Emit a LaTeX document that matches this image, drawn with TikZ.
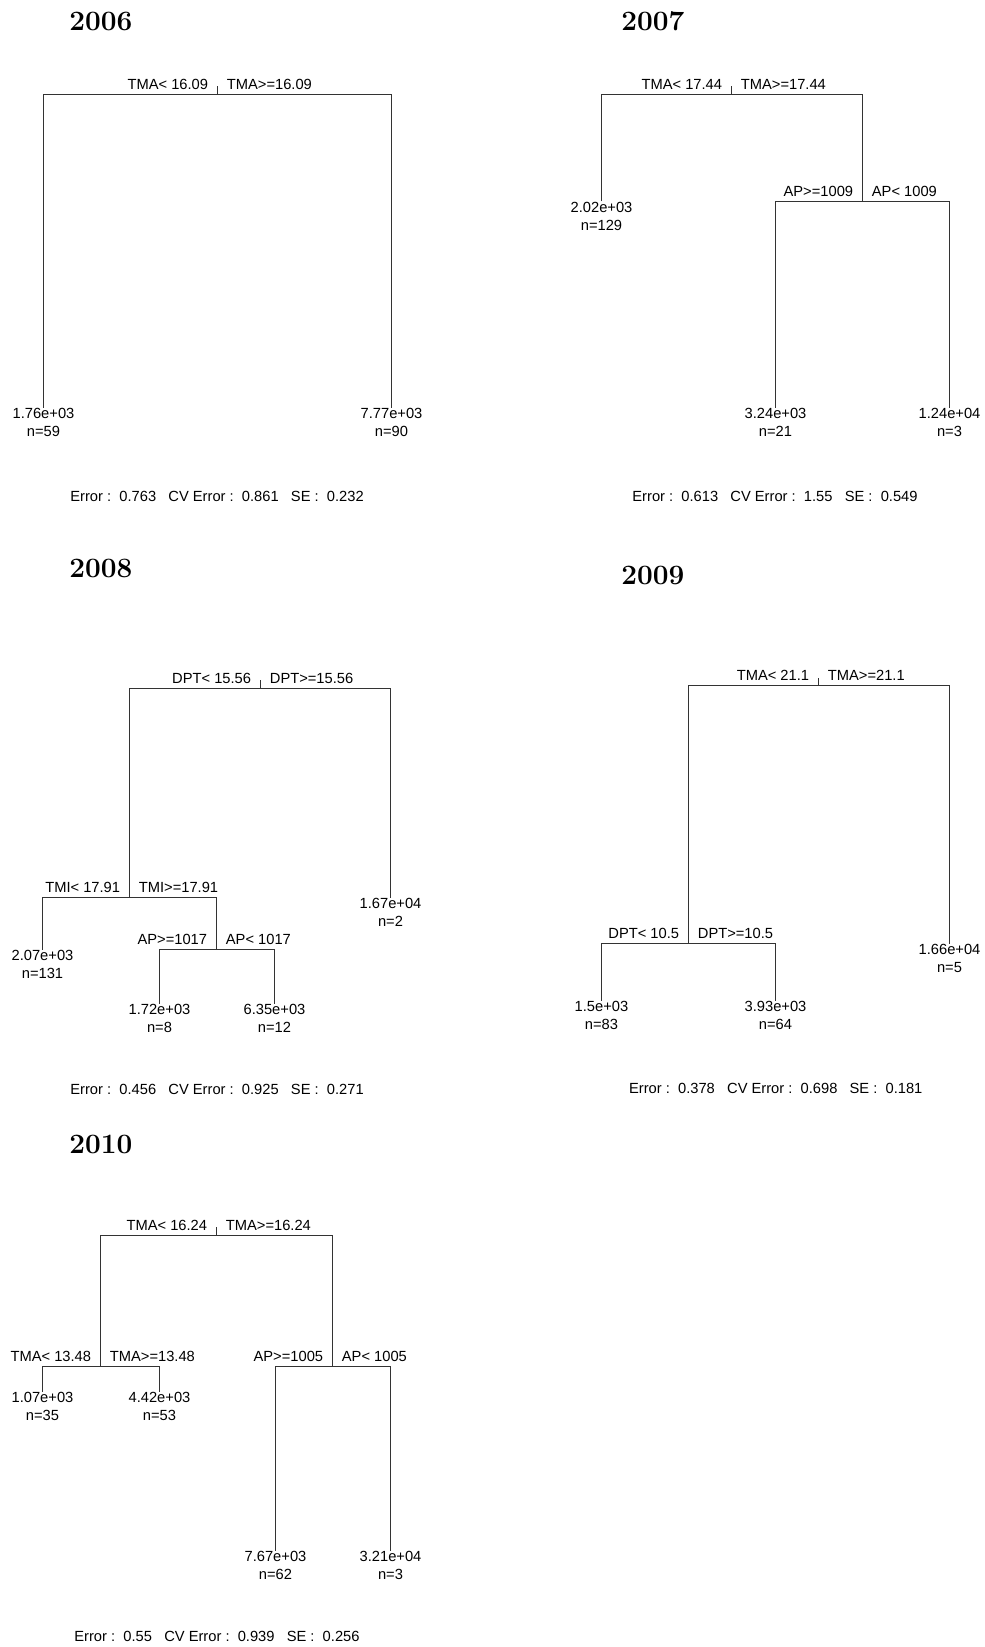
\documentclass[tikz,border=0pt]{standalone}
\usepackage{fontspec}
\newfontfamily\lab{Liberation Sans}
\begin{document}
\begin{tikzpicture}[x=0.5pt,y=-0.5pt]
\tikzset{
  edge/.style={line width=0.5pt, draw=black!80},
  lbl/.style={font=\lab\fontsize{7.35}{9}\selectfont, inner sep=0pt},
  leftlbl/.style={lbl, anchor=base east, xshift=-4.5pt, yshift=2.5pt},
  rightlbl/.style={lbl, anchor=base west, xshift=4.5pt, yshift=2.5pt},
  leaf/.style={lbl, anchor=north, align=center},
  yeartitle/.style={font=\fontsize{14}{16}\selectfont\bfseries, inner sep=0pt, anchor=west},
  errline/.style={lbl, anchor=west},
}
\fill[white] (0,0) rectangle (984,1647);
\useasboundingbox (0,0) rectangle (984,1647);

% ---------------- 2006 ----------------
\node[yeartitle] (t06) at (69,21.7) {2006};
\coordinate (r06) at (217.5,94.5);
\coordinate (r06t) at (217.5,86.5);
\node[leaf] (l06a) at (43.5,407.5) {1.76e+03\\n=59};
\node[leaf] (l06b) at (391.5,407.5) {7.77e+03\\n=90};
\draw[edge] (r06) -- (r06t);
\draw[edge] (l06a.north) |- (r06) -| (l06b.north);
\node[leftlbl] (r06l) at (r06) {TMA< 16.09};
\node[rightlbl] (r06r) at (r06) {TMA>=16.09};
\node[errline] (e06) at (70,496) {Error :~~0.763~~~CV Error :~~0.861~~~SE :~~0.232};

% ---------------- 2007 ----------------
\node[yeartitle] (t07) at (621,21.7) {2007};
\coordinate (r07) at (731.5,94.5);
\coordinate (r07t) at (731.5,86.5);
\coordinate (s07) at (862.5,201.5);
\node[leaf] (l07a) at (601.5,201.5) {2.02e+03\\n=129};
\node[leaf] (l07b) at (775.5,407.5) {3.24e+03\\n=21};
\node[leaf] (l07c) at (949.5,407.5) {1.24e+04\\n=3};
\draw[edge] (r07) -- (r07t);
\draw[edge] (l07a.north) |- (r07) -| (s07);
\draw[edge] (l07b.north) |- (s07) -| (l07c.north);
\node[leftlbl] (r07l) at (r07) {TMA< 17.44};
\node[rightlbl] (r07r) at (r07) {TMA>=17.44};
\node[leftlbl] (s07l) at (s07) {AP>=1009};
\node[rightlbl] (s07r) at (s07) {AP< 1009};
\node[errline] (e07) at (632,496) {Error :~~0.613~~~CV Error :~~1.55~~~SE :~~0.549};

% ---------------- 2008 ----------------
\node[yeartitle] (t08) at (69,568) {2008};
\coordinate (r08) at (260.5,688.5);
\coordinate (r08t) at (260.5,679.5);
\coordinate (s08a) at (129.5,897.5);
\coordinate (s08b) at (216.5,949.5);
\node[leaf] (l08a) at (390.5,897.5) {1.67e+04\\n=2};
\node[leaf] (l08b) at (42.5,949.5) {2.07e+03\\n=131};
\node[leaf] (l08c) at (159.5,1003.5) {1.72e+03\\n=8};
\node[leaf] (l08d) at (274.5,1003.5) {6.35e+03\\n=12};
\draw[edge] (r08) -- (r08t);
\draw[edge] (s08a) |- (r08) -| (l08a.north);
\draw[edge] (l08b.north) |- (s08a) -| (s08b);
\draw[edge] (l08c.north) |- (s08b) -| (l08d.north);
\node[leftlbl] (r08l) at (r08) {DPT< 15.56};
\node[rightlbl] (r08r) at (r08) {DPT>=15.56};
\node[leftlbl] (s08al) at (s08a) {TMI< 17.91};
\node[rightlbl] (s08ar) at (s08a) {TMI>=17.91};
\node[leftlbl] (s08bl) at (s08b) {AP>=1017};
\node[rightlbl] (s08br) at (s08b) {AP< 1017};
\node[errline] (e08) at (70,1089) {Error :~~0.456~~~CV Error :~~0.925~~~SE :~~0.271};

% ---------------- 2009 ----------------
\node[yeartitle] (t09) at (621,575.5) {2009};
\coordinate (r09) at (818.5,685.5);
\coordinate (r09t) at (818.5,677.5);
\coordinate (s09) at (688.5,943.5);
\node[leaf] (l09a) at (949.5,943.5) {1.66e+04\\n=5};
\node[leaf] (l09b) at (601.5,1000.5) {1.5e+03\\n=83};
\node[leaf] (l09c) at (775.5,1000.5) {3.93e+03\\n=64};
\draw[edge] (r09) -- (r09t);
\draw[edge] (s09) |- (r09) -| (l09a.north);
\draw[edge] (l09b.north) |- (s09) -| (l09c.north);
\node[leftlbl] (r09l) at (r09) {TMA< 21.1};
\node[rightlbl] (r09r) at (r09) {TMA>=21.1};
\node[leftlbl] (s09l) at (s09) {DPT< 10.5};
\node[rightlbl] (s09r) at (s09) {DPT>=10.5};
\node[errline] (e09) at (628.7,1088) {Error :~~0.378~~~CV Error :~~0.698~~~SE :~~0.181};

% ---------------- 2010 ----------------
\node[yeartitle] (t10) at (69,1144) {2010};
\coordinate (r10) at (216.5,1235.5);
\coordinate (r10t) at (216.5,1226.5);
\coordinate (s10a) at (100.5,1366.5);
\coordinate (s10b) at (332.5,1366.5);
\node[leaf] (l10a) at (42.5,1391.5) {1.07e+03\\n=35};
\node[leaf] (l10b) at (159.5,1391.5) {4.42e+03\\n=53};
\node[leaf] (l10c) at (275.5,1550.5) {7.67e+03\\n=62};
\node[leaf] (l10d) at (390.5,1550.5) {3.21e+04\\n=3};
\draw[edge] (r10) -- (r10t);
\draw[edge] (s10a) |- (r10) -| (s10b);
\draw[edge] (l10a.north) |- (s10a) -| (l10b.north);
\draw[edge] (l10c.north) |- (s10b) -| (l10d.north);
\node[leftlbl] (r10l) at (r10) {TMA< 16.24};
\node[rightlbl] (r10r) at (r10) {TMA>=16.24};
\node[leftlbl] (s10al) at (s10a) {TMA< 13.48};
\node[rightlbl] (s10ar) at (s10a) {TMA>=13.48};
\node[leftlbl] (s10bl) at (s10b) {AP>=1005};
\node[rightlbl] (s10br) at (s10b) {AP< 1005};
\node[errline] (e10) at (74,1636.6) {Error :~~0.55~~~CV Error :~~0.939~~~SE :~~0.256};
\end{tikzpicture}
\end{document}
